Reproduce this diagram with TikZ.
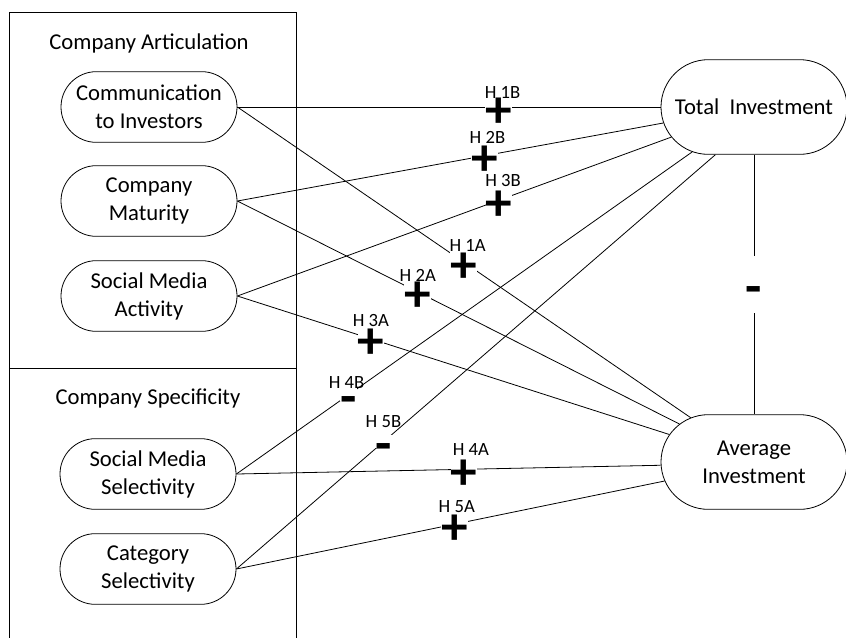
\documentclass[tikz,border=0pt]{standalone}
\usepackage{fontspec}
\setmainfont{Carlito}
\usetikzlibrary{shapes.misc, positioning}
\newcommand{\plusmark}{\raisebox{-15pt}[0pt][0pt]{+}}
\newcommand{\minusmark}{\raisebox{-15pt}[0pt][0pt]{-}}
\tikzset{
    factor/.style={rounded rectangle, draw, line width=.6pt, align=center, minimum width=132pt, minimum height=53pt, inner sep=0pt, font=\fontsize{17}{21}\selectfont},
    outcome/.style={factor, minimum width=139.5pt, minimum height=71pt},
    sign/.style={fill=white, inner sep=0pt, font=\fontsize{40}{40}\selectfont\bfseries},
    plussign/.style={sign, minimum size=18pt},
    minussign/.style={sign, minimum width=13pt, minimum height=10pt},
    hlabel/.style={inner sep=0pt, font=\fontsize{14}{14}\selectfont},
    grouptitle/.style={font=\fontsize{17}{21}\selectfont},
    link/.style={line width=.6pt},
}
\begin{document}
\begin{tikzpicture}[x=0.75pt, y=-0.75pt]
                 \useasboundingbox (0,0) rectangle (846,637);
                 \draw[link](9,12) rectangle (296,368);
                 \draw[link](9,368) rectangle (296,645);
                 \node[grouptitle] (art) at (149,43) {Company Articulation};
                 \node[grouptitle] (spec) at (148,398) {Company Specificity};

                 \node[factor] (ci) at (149,107) {Communication\\to Investors};
                 \node[factor] (cm) at (149,201) {Company\\Maturity};
                 \node[factor] (sma) at (149,296) {Social Media\\Activity};
                 \node[factor] (sms) at (148,474) {Social Media\\Selectivity};
                 \node[factor] (cs) at (148,569) {Category\\Selectivity};

                 \node[outcome] (ti) at (754,107) {Total\ \ Investment};
                 \node[outcome] (ai) at (754,462) {Average\\Investment};

                 % paths to total investment
                 \draw[link](ci.east)--coordinate[pos=.617] (p1b)(ti.west);
                 \draw[link](cm.east)--coordinate[pos=.58] (p2b)(ti.190.5);
                 \draw[link](sma.east)--coordinate[pos=.603] (p3b)(ti.200);
                 \draw[link](sms.east)--coordinate[pos=.246] (p4b)(ti.216);
                 \draw[link](cs.east)--coordinate[pos=.307] (p5b)(ti.231);

                 % paths to average investment
                 \draw[link](ci.east)--coordinate[pos=.499] (p1a)(ai.145);
                 \draw[link](cm.east)--coordinate[pos=.408] (p2a)(ai.153);
                 \draw[link](sma.east)--coordinate[pos=.309] (p3a)(ai.162.6);
                 \draw[link](sms.east)--coordinate[pos=.536] (p4a)(ai.182);
                 \draw[link](cs.east)--coordinate[pos=.51] (p5a)(ai.192);

                 \draw[link](ti.south)--coordinate (pm)(ai.north);
                 \node[minussign, minimum height=43pt] (sm) at (pm) {\minusmark};

                 \node[plussign] (s1b) at (p1b) {\plusmark};
                 \node[hlabel] (t1b) at ([shift={(4,-15)}]s1b) {H 1B};
                 \node[plussign] (s2b) at (p2b) {\plusmark};
                 \node[hlabel] (t2b) at ([shift={(3,-18)}]s2b) {H 2B};
                 \node[plussign] (s3b) at (p3b) {\plusmark};
                 \node[hlabel] (t3b) at ([shift={(4,-20)}]s3b) {H 3B};
                 \node[minussign] (s4b) at (p4b) {\minusmark};
                 \node[hlabel] (t4b) at ([shift={(-2,-12)}]s4b) {H 4B};
                 \node[minussign] (s5b) at (p5b) {\minusmark};
                 \node[hlabel] (t5b) at ([shift={(0,-20)}]s5b) {H 5B};

                 \node[plussign] (s1a) at (p1a) {\plusmark};
                 \node[hlabel] (t1a) at ([shift={(4,-17)}]s1a) {H 1A};
                 \node[plussign] (s2a) at (p2a) {\plusmark};
                 \node[hlabel] (t2a) at ([shift={(0,-17)}]s2a) {H 2A};
                 \node[plussign] (s3a) at (p3a) {\plusmark};
                 \node[hlabel] (t3a) at ([shift={(0,-18)}]s3a) {H 3A};
                 \node[plussign] (s4a) at (p4a) {\plusmark};
                 \node[hlabel] (t4a) at ([shift={(7,-20)}]s4a) {H 4A};
                 \node[plussign] (s5a) at (p5a) {\plusmark};
                 \node[hlabel] (t5a) at ([shift={(2,-18)}]s5a) {H 5A};
             \end{tikzpicture}
\end{document}
